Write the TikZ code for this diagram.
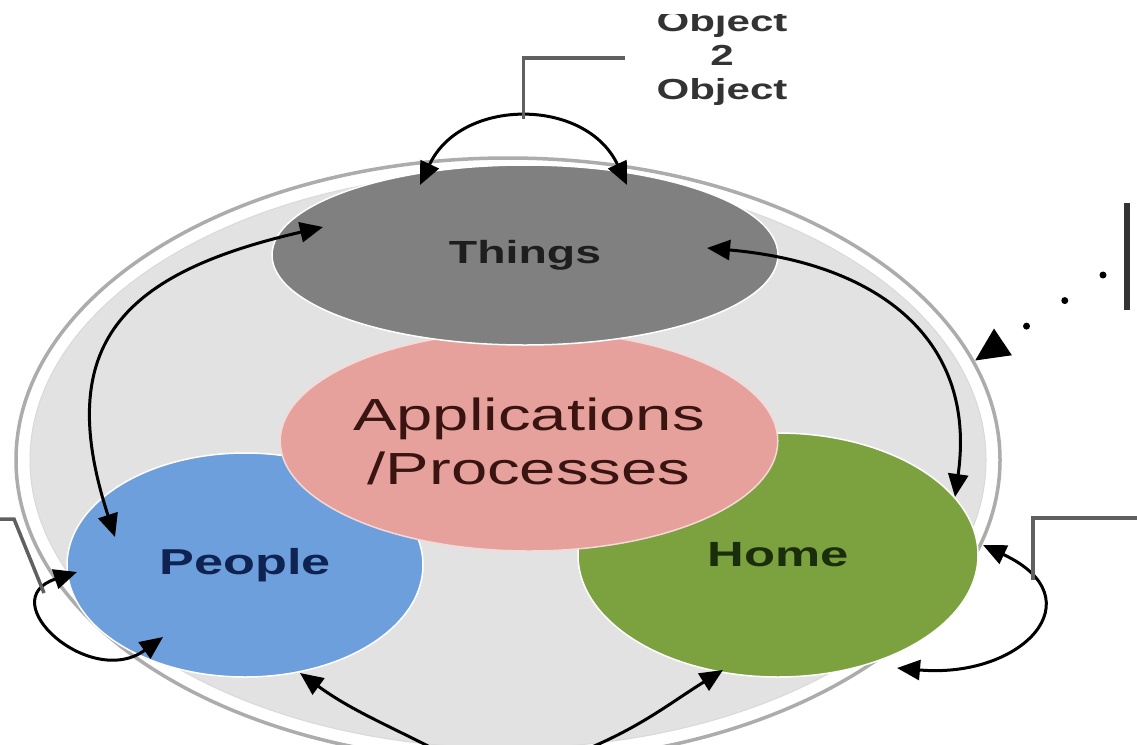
\documentclass[tikz,border=0pt]{standalone}
\usepackage{fontspec}
\setmainfont{Liberation Sans}
\usepackage{graphicx}
\usetikzlibrary{shapes.geometric,arrows.meta}

\definecolor{ringgray}{HTML}{E2E2E2}
\definecolor{thingsgray}{HTML}{808080}
\definecolor{appspink}{HTML}{E6A19C}
\definecolor{peopleblue}{HTML}{6E9FDD}
\definecolor{homegreen}{HTML}{7BA23F}
\definecolor{thingstext}{HTML}{1E1E1E}
\definecolor{appstext}{HTML}{3A1411}
\definecolor{peopletext}{HTML}{0E2352}
\definecolor{hometext}{HTML}{1B2E0C}

\newcommand{\widetext}[1]{\scalebox{1.45}[1]{#1}}

\tikzset{
    blob/.style={ellipse, inner sep=0pt, draw=white, line width=1.5pt},
    link/.style={line width=3pt, -{Triangle[length=23pt,width=20pt]}},
    twoway/.style={link, {Triangle[length=23pt,width=20pt]}-{Triangle[length=23pt,width=20pt]}},
    bracket/.style={draw=gray!75!black, line width=3.5pt},
}

\begin{document}
\begin{tikzpicture}[x=1pt,y=1pt]
                \useasboundingbox (0,0) rectangle (1137,-744);
                \fill [white] (0,0) rectangle (1137,-744);
                \clip (0,-14) rectangle (1137,-744);

                \node [ellipse, draw=gray!65, line width=3.5pt, fill=white, minimum width=984pt, minimum height=604pt] (ring) at (508,-460) {};
                \fill [ringgray, draw=gray!30, line width=1pt] (508,-460) ellipse [x radius=478, y radius=288];

                \node [blob, fill=peopleblue, minimum width=356pt, minimum height=224pt, text=peopletext, font=\fontsize{36}{40}\selectfont\bfseries] (people) at (245,-565) {\widetext{People}};
                \node [blob, fill=homegreen, minimum width=400pt, minimum height=244pt, text=hometext, font=\fontsize{35}{40}\selectfont\bfseries] (home) at (778,-555) {\widetext{Home}};
                \node [blob, fill=appspink, draw=appspink!40!white, minimum width=408pt, minimum height=220pt, align=center, text=appstext, font=\fontsize{45}{54}\selectfont] (apps) at (529,-441) {\widetext{Applications}\\\widetext{/Processes}};
                \node [blob, fill=thingsgray, minimum width=506pt, minimum height=180pt, text=thingstext, font=\fontsize{32}{36}\selectfont\bfseries] (things) at (525,-255) {\widetext{Things}};

                \draw [twoway] ([shift={(-105,70)}]things.center) to [out=65, in=115, looseness=1.2] coordinate [pos=0.5] (apex) ([shift={(102,70)}]things.center);
                \draw [twoway] ([shift={(-202,28)}]things.center) to [out=193, in=108, looseness=1.4] ([shift={(-130,28)}]people.center);
                \draw [twoway] ([shift={(182,7)}]things.center) to [out=-5, in=82, looseness=1.2] ([shift={(177,58)}]home.center);
                \draw [twoway] ([shift={(-168,-7)}]people.center) to [out=198, in=216, looseness=2.15] ([shift={(-82,-72)}]people.center);
                \draw [twoway] ([shift={(205,10)}]home.center) to [out=-25, in=-5, looseness=2.15] ([shift={(119,-113)}]home.center);

                \coordinate (bl) at (440,-752);
                \coordinate (br) at (580,-752);
                \draw [link] (bl) to [out=153, in=-36] ([shift={(55,-108)}]people.center);
                \draw [link] (br) to [out=22, in=212] ([shift={(-55,-115)}]home.center);

                \coordinate (objend) at (625,-58);
                \draw [bracket] (apex) |- (objend);
                \node [text=black!80, align=center, font=\fontsize{29}{34}\selectfont\bfseries] (obj) at (722,-58) {\widetext{Object}\\\widetext{2}\\\widetext{Object}};

                \coordinate (homeend) at (1140,-518);
                \coordinate (homeloop) at (1033,-580);
                \draw [bracket] (homeend) -| (homeloop);
                \coordinate (peopleend) at (0,-519);
                \coordinate (peopleloop) at (44,-593);
                \draw [bracket] (peopleend) -- (14,-519) -- (peopleloop);

                \draw [line width=6pt, gray!40!black] (1127,-203) -- (1127,-310);
                \coordinate (dots) at (1103,-275);
                \draw [line width=7pt, line cap=round, dash pattern=on 0pt off 46pt, -{Triangle[length=34pt,width=30pt]}] (dots) -- (ring.12);
\end{tikzpicture}
\end{document}
